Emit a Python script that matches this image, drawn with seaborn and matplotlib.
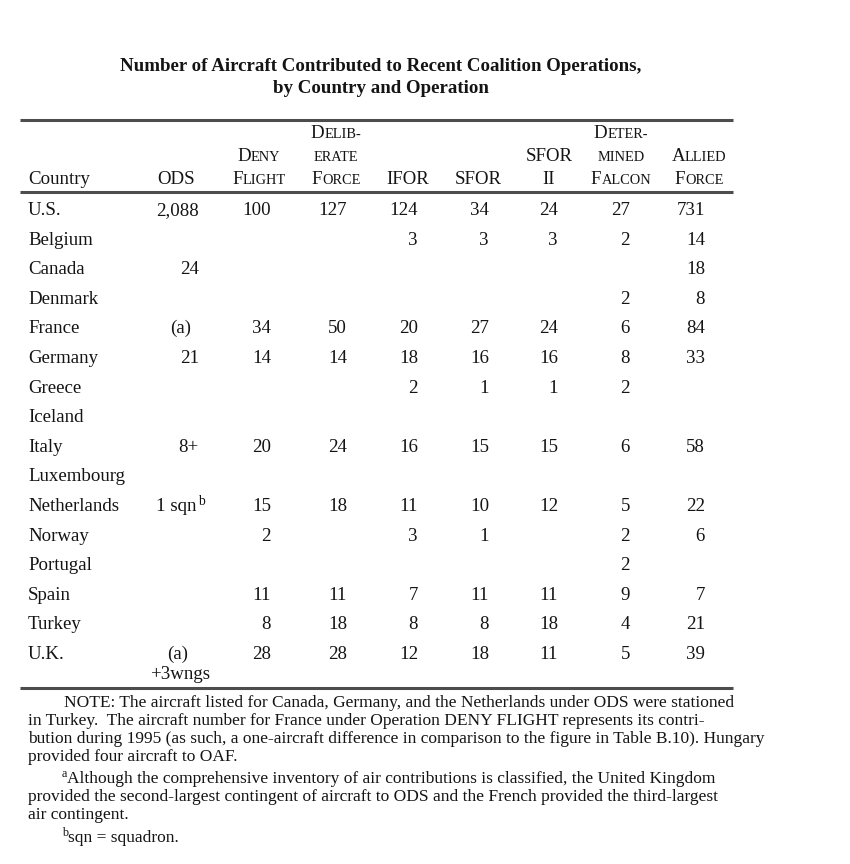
import matplotlib
matplotlib.use("Agg")
import matplotlib.pyplot as plt
from matplotlib.font_manager import FontProperties
import seaborn as sns

# Таблица: число самолётов по странам и операциям
countries = ["U.S.", "Belgium", "Canada", "Denmark", "France", "Germany", "Greece", "Iceland",
             "Italy", "Luxembourg", "Netherlands", "Norway", "Portugal", "Spain", "Turkey", "U.K."]
ods = ["2,088", "", "24", "", "(a)", "21", "", "", "8+", "", "1 sqn^b", "", "", "", "", "(a)|+3wngs"]
deny_flight = ["100", "", "", "", "34", "14", "", "", "20", "", "15", "2", "", "11", "8", "28"]
deliberate_force = ["127", "", "", "", "50", "14", "", "", "24", "", "18", "", "", "11", "18", "28"]
ifor = ["124", "3", "", "", "20", "18", "2", "", "16", "", "11", "3", "", "7", "8", "12"]
sfor = ["34", "3", "", "", "27", "16", "1", "", "15", "", "10", "1", "", "11", "8", "18"]
sfor_ii = ["24", "3", "", "", "24", "16", "1", "", "15", "", "12", "", "", "11", "18", "11"]
determined_falcon = ["27", "2", "", "2", "6", "8", "2", "", "6", "", "5", "2", "2", "9", "4", "5"]
allied_force = ["731", "14", "18", "8", "84", "33", "", "", "58", "", "22", "6", "", "7", "21", "39"]

columns = [ods, deny_flight, deliberate_force, ifor, sfor, sfor_ii, determined_falcon, allied_force]
headers = [["ODS"], ["Deny", "Flight"], ["Delib-", "erate", "Force"], ["IFOR"], ["SFOR"],
           ["SFOR", "II"], ["Deter-", "mined", "Falcon"], ["Allied", "Force"]]

title_lines = ["Number of Aircraft Contributed to Recent Coalition Operations,",
               "by Country and Operation"]
note_lines = [
    "NOTE: The aircraft listed for Canada, Germany, and the Netherlands under ODS were stationed",
    "in Turkey.  The aircraft number for France under Operation DENY FLIGHT represents its contri-",
    "bution during 1995 (as such, a one-aircraft difference in comparison to the figure in Table B.10). Hungary",
    "provided four aircraft to OAF.",
]
note_a = ["Although the comprehensive inventory of air contributions is classified, the United Kingdom",
          "provided the second-largest contingent of aircraft to ODS and the French provided the third-largest",
          "air contingent."]
note_b = "sqn = squadron."

# Раскладка (пиксели)
SERIF = "Liberation Serif"
INK = "#141414"
val_right = [199, 271, 347, 418, 489, 558, 630, 705]
head_center = [176, 259, 336, 408, 478, 549, 621, 699]
head_base = [138, 161, 184]
row0, row_step = 215, 29.6

sns.set_theme(style="white")
plt.rcParams['font.family'] = [SERIF, 'DejaVu Serif']

fig = plt.figure(figsize=(8.5, 8.64), dpi=100)
ax = fig.add_axes([0, 0, 1, 1])
ax.set_xlim(0, 850)
ax.set_ylim(864, 0)
ax.axis("off")
renderer = fig.canvas.get_renderer()


def text_width(s, size, weight="normal"):
    fp = FontProperties(family=SERIF, size=size, weight=weight)
    w, _, _ = renderer.get_text_width_height_descent(s, fp, ismath=False)
    return w


def draw_runs(x, y, runs, ha="left", weight="normal"):
    # runs: (текст, размер, подъём в px)
    total = sum(text_width(s, sz, weight) for s, sz, _ in runs)
    cur = {"left": x, "right": x - total, "center": x - total / 2}[ha]
    for s, sz, rise in runs:
        ax.text(cur, y - rise, s, fontsize=sz, fontweight=weight, color=INK,
                ha="left", va="baseline")
        cur += text_width(s, sz, weight)


def small_caps(word, size):
    runs, buf, up = [], "", None
    for ch in word:
        is_up = ch.isupper()
        if up is not None and is_up != up:
            runs.append((buf.upper(), size if up else size * 0.76, 0))
            buf = ""
        buf += ch
        up = is_up
    runs.append((buf.upper(), size if up else size * 0.76, 0))
    return runs


body = 13.6
title_size = 12 * 518 / text_width(title_lines[0], 12, "bold")
note_size = 12 * 667 / text_width(note_lines[0], 12)

# Заголовок
for i, line in enumerate(title_lines):
    draw_runs(381, 71 + 22 * i, [(line, title_size, 0)], ha="center", weight="bold")

# Линейки
for yy in (120, 192, 688):
    ax.plot([20, 733], [yy, yy], color="#4d4d4d", lw=2.2, solid_capstyle="butt")

# Шапка таблицы
draw_runs(28, head_base[2], [("Country", body, 0)])
for j, lines in enumerate(headers):
    for k, word in enumerate(lines):
        y = head_base[3 - len(lines) + k]
        draw_runs(head_center[j], y, small_caps(word, body), ha="center")

# Строки
for i, name in enumerate(countries):
    y = row0 + i * row_step
    draw_runs(28, y, [(name, body, 0)])
    for j, col in enumerate(columns):
        cell = col[i]
        if not cell:
            continue
        if "|" in cell:
            top, bottom = cell.split("|")
            draw_runs(val_right[j] - 21, y, [(top, body, 0)], ha="center")
            draw_runs(val_right[j] - 19, y + 20, [(bottom, body, 0)], ha="center")
        elif "^" in cell:
            base, sup = cell.split("^")
            x0 = val_right[j] - 2
            draw_runs(x0, y, [(base, body, 0)], ha="right")
            draw_runs(x0 + 1, y, [(sup, body * 0.72, 6)])
        elif cell.startswith("("):
            draw_runs(val_right[j] - 8, y, [(cell, body, 0)], ha="right")
        else:
            draw_runs(val_right[j], y, [(cell, body, 0)], ha="right")

# Примечания
note_y = [707, 725, 743, 761]
for k, line in enumerate(note_lines):
    draw_runs(64 if k == 0 else 28, note_y[k], [(line, note_size, 0)])
a_y = [783, 801, 819]
for k, line in enumerate(note_a):
    if k == 0:
        draw_runs(62, a_y[k], [("a", note_size * 0.7, 6), (line, note_size, 0)])
    else:
        draw_runs(28, a_y[k], [(line, note_size, 0)])
draw_runs(62, 842, [("b", note_size * 0.7, 6), (note_b, note_size, 0)])

fig.savefig("out.png", dpi=100, facecolor="white")
